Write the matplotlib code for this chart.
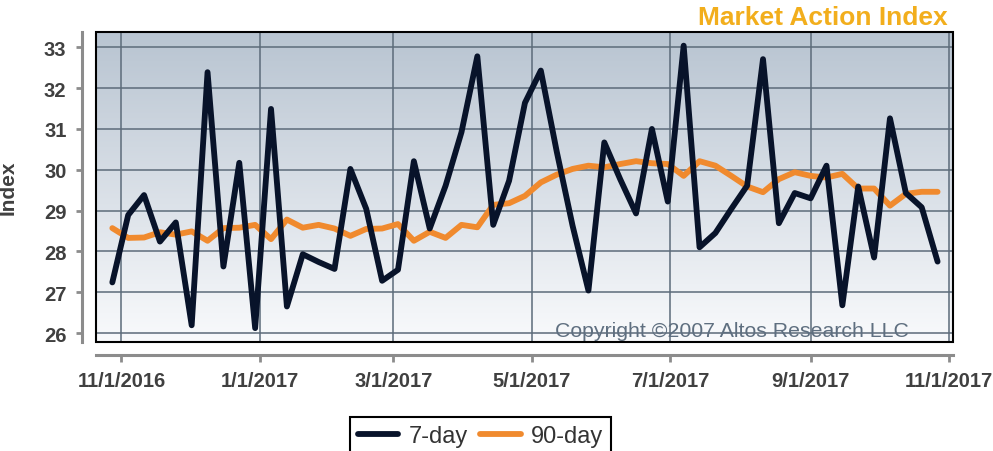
import numpy as np
import pandas as pd
import matplotlib
matplotlib.use('Agg')
import matplotlib.pyplot as plt
from matplotlib.colors import LinearSegmentedColormap
from matplotlib.patches import Rectangle

plt.rcParams['font.family'] = ['Liberation Sans', 'DejaVu Sans']

# weekly readings, first one on 10/28/2016
dates = pd.date_range('2016-10-28', periods=53, freq='7D')

seven_day = [27.24, 28.89, 29.38, 28.24, 28.71, 26.19, 32.39, 27.63, 30.17, 26.12,
             31.49, 26.65, 27.93, 27.74, 27.57, 30.02, 29.04, 27.28, 27.55, 30.21,
             28.56, 29.61, 30.92, 32.78, 28.65, 29.73, 31.64, 32.43, 30.45, 28.63,
             27.04, 30.67, 29.77, 28.93, 31.00, 29.22, 33.04, 28.10, 28.45, 29.04,
             29.61, 32.71, 28.69, 29.43, 29.30, 30.10, 26.68, 29.59, 27.85, 31.26,
             29.43, 29.08, 27.75]

ninety_day = [28.57, 28.33, 28.34, 28.47, 28.41, 28.49, 28.26, 28.57, 28.58, 28.65,
              28.30, 28.78, 28.58, 28.65, 28.56, 28.38, 28.55, 28.56, 28.67, 28.26,
              28.48, 28.33, 28.65, 28.59, 29.14, 29.18, 29.36, 29.69, 29.88, 30.02,
              30.10, 30.06, 30.14, 30.21, 30.16, 30.14, 29.85, 30.21, 30.10, 29.85,
              29.59, 29.45, 29.77, 29.94, 29.85, 29.81, 29.90, 29.54, 29.54, 29.12,
              29.41, 29.46, 29.46]

tick_dates = pd.to_datetime(['2016-11-01', '2017-01-01', '2017-03-01', '2017-05-01',
                             '2017-07-01', '2017-09-01', '2017-11-01'])
tick_labels = ['11/1/2016', '1/1/2017', '3/1/2017', '5/1/2017',
               '7/1/2017', '9/1/2017', '11/1/2017']
y_ticks = [26, 27, 28, 29, 30, 31, 32, 33]

W, H = 993, 452
fig = plt.figure(figsize=(W / 100, H / 100), dpi=100)
ax = fig.add_axes([96 / W, 1 - 343 / H, (953 - 96) / W, (343 - 33) / H])

# background gradient
grad = np.linspace(0, 1, 256).reshape(-1, 1)
bg = LinearSegmentedColormap.from_list('bg', ['#f9fafc', '#b8c4d1'])
ax.imshow(grad, cmap=bg, origin='lower', extent=[0, 1, 0, 1],
          transform=ax.transAxes, aspect='auto', zorder=0)

ax.plot(dates, seven_day, color='#08132a', lw=4.2, solid_joinstyle='round',
        solid_capstyle='round', zorder=3, label='7-day')
ax.plot(dates, ninety_day, color='#f08a2e', lw=4.2, solid_joinstyle='round',
        solid_capstyle='round', zorder=2.9, label='90-day')

ax.set_xlim(pd.Timestamp('2016-11-01') - pd.Timedelta(days=11.2),
            pd.Timestamp('2017-11-01') + pd.Timedelta(days=1.8))
ax.set_ylim(25.78, 33.375)

ax.set_xticks(tick_dates)
ax.set_xticklabels(tick_labels)
ax.set_yticks(y_ticks)
ax.set_yticklabels([str(v) for v in y_ticks])

ax.grid(True, color='#5c6b7a', lw=1.1, zorder=1)
ax.set_axisbelow(True)

for s in ['top', 'right']:
    ax.spines[s].set_visible(False)
ax.spines['left'].set_position(('outward', 10))
ax.spines['bottom'].set_position(('outward', 9.4))
for s in ['left', 'bottom']:
    ax.spines[s].set_color('#8c8c8c')
    ax.spines[s].set_linewidth(2.2)

ax.tick_params(axis='y', direction='out', length=4.3, width=2, color='#8c8c8c',
               pad=7, labelsize=14.5, labelcolor='#404040')
ax.tick_params(axis='x', direction='out', length=5, width=2, color='#8c8c8c',
               pad=6.5, labelsize=14.5, labelcolor='#404040')
for lbl in ax.get_xticklabels() + ax.get_yticklabels():
    lbl.set_fontweight('bold')

# black frame round the plot area
ax.add_patch(Rectangle((0, 0), 1, 1, transform=ax.transAxes, fill=False,
                       ec='black', lw=1.5, zorder=5, clip_on=False))

ax.set_ylabel('Index', fontsize=15, fontweight='bold', color='#404040')
ax.yaxis.set_label_coords(-0.091, 0.5)

ax.text(0.9487, 0.019, 'Copyright \u00a92007 Altos Research LLC', transform=ax.transAxes,
        ha='right', va='baseline', fontsize=15.3, color='#5f6f80', zorder=4)

fig.text(948 / W, 1 - 18 / H, 'Market Action Index', ha='right', va='center',
         color='#f2ae1c', fontsize=19, fontweight='bold')

leg = fig.legend(loc='upper center', bbox_to_anchor=(480.5 / W, 1 - 406 / H), ncol=2,
                 frameon=True, fancybox=False, edgecolor='black', framealpha=1,
                 fontsize=17, handlelength=1.7, handletextpad=0.43,
                 columnspacing=0.55, borderpad=0.35)
leg.get_frame().set_linewidth(1.5)
for t in leg.get_texts():
    t.set_color('#333333')

fig.savefig('out.png', dpi=100)
